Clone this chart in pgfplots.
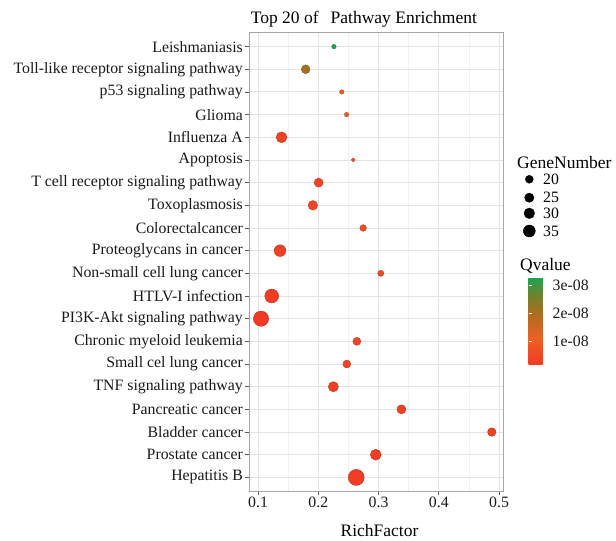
\documentclass[border=0pt]{standalone}
\usepackage{pgfplots}
\pgfplotsset{compat=1.18}
\usepackage{pgfplotstable}
\usepackage{fontspec}
\setmainfont{Liberation Serif}

% y: category index (1 = Hepatitis B ... 20 = Leishmaniasis)
% x: RichFactor, g: GeneNumber, q: Qvalue in units of 1e-08
\pgfplotstableread{
y  x      g   q
1  0.263  50  0.25
2  0.2954 31  0.30
3  0.488  22  0.35
4  0.338  24  0.35
5  0.225  28  0.30
6  0.2474 20  0.45
7  0.264  20  0.45
8  0.105  47  0.18
9  0.1227 42  0.25
10 0.3037 13  0.55
11 0.1365 34  0.35
12 0.2745 15  0.60
13 0.191  26  0.45
14 0.2005 24  0.45
15 0.258  5   0.75
16 0.139  31  0.40
17 0.247  7   1.05
18 0.239  7   1.30
19 0.179  23  2.10
20 0.226  7   3.27
}\datatable

\pgfplotstableread{
x     y     g
529.3 361.7 20
529.3 343.3 25
529.3 327.7 30
529.3 310.0 35
}\legtable

\pgfplotsset{
  colormap={qv}{rgb255(0)=(240,58,36) rgb255(3)=(236,96,38) rgb255(6)=(170,110,32) rgb255(8)=(110,130,45) rgb255(10)=(26,166,80)}
}

\begin{document}
\begin{tikzpicture}
\path[use as bounding box] (0,0) rectangle (616bp,541bp);
\begin{axis}[
  at={(249bp,50bp)}, anchor=south west,
  scale only axis, width=254bp, height=458bp,
  xmin=0.085, xmax=0.5066, ymin=0.4, ymax=20.6,
  xtick={0.1,0.2,0.3,0.4,0.5},
  minor xtick={0.15,0.25,0.35,0.45},
  ytick={1,...,20},
  yticklabels={Hepatitis B,Prostate cancer,Bladder cancer,Pancreatic cancer,TNF signaling pathway,Small cel lung cancer,Chronic myeloid leukemia,PI3K-Akt signaling pathway,HTLV-I infection,Non-small cell lung cancer,Proteoglycans in cancer,Colorectalcancer,Toxoplasmosis,T cell receptor signaling pathway,Apoptosis,Influenza A,Glioma,p53 signaling pathway,Toll-like receptor signaling pathway,Leishmaniasis},
  xticklabels={0.1,0.2,0.3,0.4,0.5},
  grid=both,
  major grid style={gray!22, line width=0.9bp},
  minor grid style={gray!11, line width=0.6bp},
  axis line style={gray!70, line width=1bp},
  tick align=outside, major tick length=4bp, minor tick length=0bp,
  tick style={gray!70!black, line width=0.6bp},
  xtick pos=bottom, ytick pos=left,
  tick label style={font=\fontsize{15.8bp}{18bp}\selectfont, text=black!90},
  yticklabel style={inner sep=2bp},
  xticklabel style={inner sep=2bp},
  /pgf/number format/assume math mode=true,
  colormap name=qv,
  point meta min=0.178, point meta max=3.27,
  colorbar,
  colorbar style={
    at={(parent axis.north east)}, anchor=north west,
    xshift=17bp, yshift=-244.3bp,
    scale only axis, width=18bp, height=87.7bp,
    grid=none, xlabel={}, ylabel={},
    ytick={1,2,3}, yticklabels={1e-08,2e-08,3e-08},
    minor ytick={}, minor xtick={},
    axis line style={draw=none},
    tick align=inside, major tick length=3.5bp,
    ytick pos=both, yticklabel pos=right,
    ytick style={white, line width=0.8bp},
    yticklabel style={font=\fontsize{15.8bp}{18bp}\selectfont, inner sep=2bp, xshift=4bp},
  },
]
\addplot[scatter, only marks, mark=*, scatter src=explicit,
  visualization depends on={\thisrow{g} \as \gn},
  scatter/@pre marker code/.append style={/tikz/mark size={(0.27*\gn+2.6)/2}}]
  table[x=x, y=y, meta=q] {\datatable};
\end{axis}

% size legend drawn through an overlay axis
\begin{axis}[
  at={(0,0)}, anchor=south west, scale only axis,
  width=616bp, height=541bp, xmin=0, xmax=616, ymin=0, ymax=541,
  hide axis, clip=false]
\addplot[scatter, only marks, mark=*,
  scatter/use mapped color={draw=black, fill=black},
  visualization depends on={\thisrow{g} \as \gn},
  scatter/@pre marker code/.append style={/tikz/mark size={(0.27*\gn+2.6)/2}}]
  table[x=x, y=y] {\legtable};
\end{axis}

\def\lfont{\fontsize{15.8bp}{18bp}\selectfont}
\def\tfont{\fontsize{17.5bp}{20bp}\selectfont}
\node[anchor=base west, inner sep=0] at (250.7bp,517bp) {\tfont Top 20 of\hspace{12bp}Pathway Enrichment};
\node[anchor=base, inner sep=0] at (379.5bp,4.3bp) {\tfont RichFactor};
\node[anchor=west, inner sep=0] at (517bp,378.3bp) {\tfont GeneNumber};
\node[anchor=west, inner sep=0] at (543bp,361.7bp) {\lfont 20};
\node[anchor=west, inner sep=0] at (543bp,343.3bp) {\lfont 25};
\node[anchor=west, inner sep=0] at (543bp,327.7bp) {\lfont 30};
\node[anchor=west, inner sep=0] at (543bp,310.0bp) {\lfont 35};
\node[anchor=west, inner sep=0] at (520bp,275bp) {\tfont Qvalue};
\end{tikzpicture}
\end{document}
